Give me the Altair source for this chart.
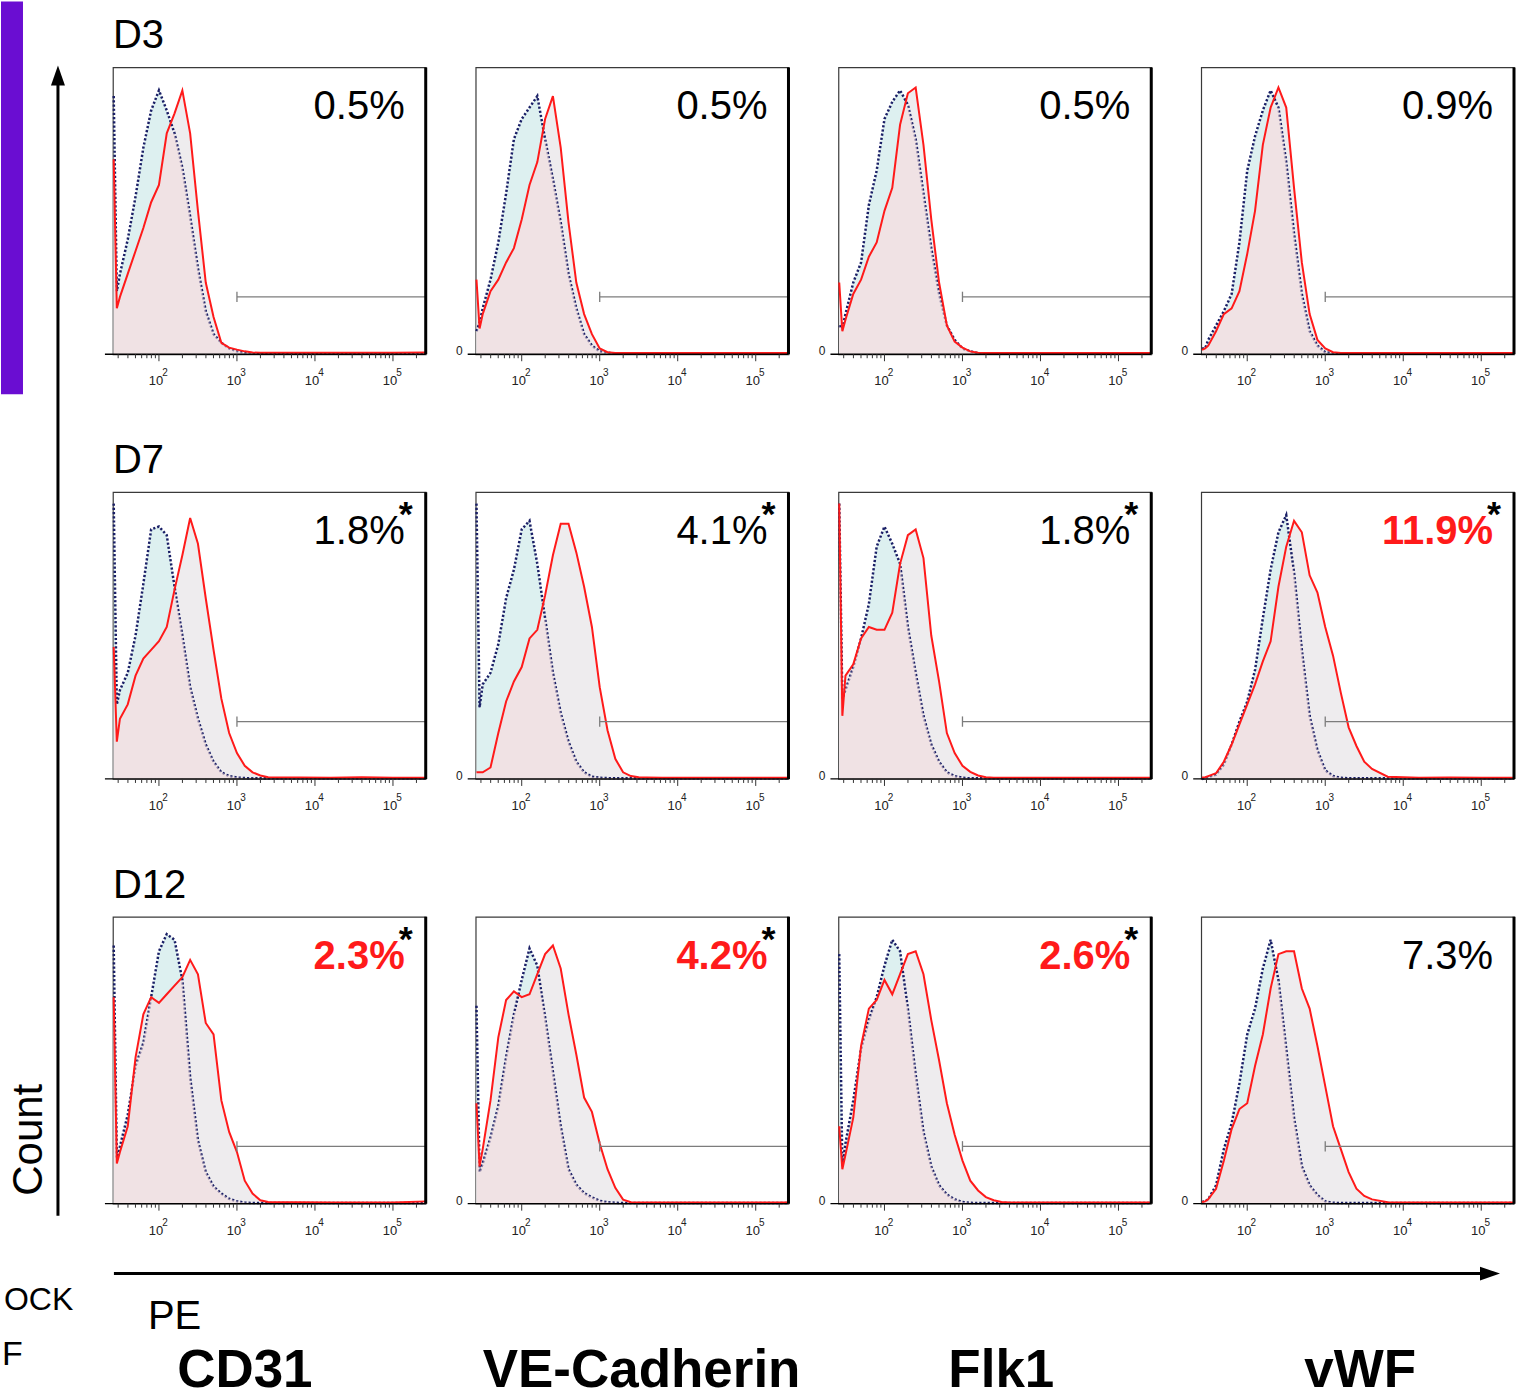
import altair as alt
import pandas as pd

# ---------------- data ----------------
# histogram bin centres, log10(PE intensity)
LOG_BINS = [1.42, 1.46, 1.5, 1.6, 1.7, 1.8, 1.9, 2.0, 2.1, 2.2, 2.3, 2.4, 2.5, 2.6, 2.7,
            2.8, 2.9, 3.0, 3.1, 3.2, 3.3, 3.4, 3.5, 3.6, 3.8, 4.2, 4.6, 5.0, 5.42]

DAYS = ["D3", "D7", "D12"]
MARKERS = ["CD31", "VE-Cadherin", "Flk1", "vWF"]

# isotype control (dotted) and stained sample (red), % of mode
ISO_D3_CD31 = [90, 22, 28, 40, 55, 72, 85, 92, 85, 77, 65, 48, 30, 15, 7, 4, 2, 1, 0.5, 0.3, 0.2, 0.2, 0.2, 0.2, 0.2, 0.2, 0.2, 0.2, 0.2]
SMP_D3_CD31 = [68, 16, 20, 28, 36, 44, 53, 59, 77, 84, 92, 77, 50, 25, 13, 4, 2.3, 1.6, 1, 0.6, 0.5, 0.5, 0.5, 0.5, 0.5, 0.5, 0.5, 0.5, 0.6]
ISO_D3_VEC = [8, 11, 16, 26, 39, 56, 75, 82, 86, 90, 75, 61, 46, 28, 16, 7, 3, 1, 0.5, 0.3, 0.2, 0.2, 0.2, 0.2, 0.2, 0.2, 0.2, 0.2, 0.2]
SMP_D3_VEC = [26, 9, 14, 22, 26, 32, 37, 47, 59, 67, 82, 90, 72, 46, 25, 14, 7, 2, 0.7, 0.4, 0.4, 0.4, 0.4, 0.4, 0.4, 0.4, 0.4, 0.4, 0.4]
ISO_D3_FLK = [10, 9, 14, 25, 32, 52, 64, 82, 88, 92, 87, 75, 56, 37, 21, 10, 5, 2, 1, 0.4, 0.2, 0.2, 0.2, 0.2, 0.2, 0.2, 0.2, 0.2, 0.2]
SMP_D3_FLK = [25, 8, 12, 21, 26, 34, 39, 50, 58, 80, 91, 93, 73, 47, 25, 10, 4.4, 2.3, 1, 0.5, 0.4, 0.4, 0.4, 0.4, 0.4, 0.4, 0.4, 0.4, 0.4]
ISO_D3_VWF = [2, 2, 5, 10, 15, 21, 39, 64, 76, 85, 92, 86, 67, 42, 21, 8, 3, 0.7, 0.3, 0.2, 0.2, 0.2, 0.2, 0.2, 0.2, 0.2, 0.2, 0.2, 0.2]
SMP_D3_VWF = [1.5, 2, 3, 8, 14, 16, 22, 35, 50, 73, 86, 93, 86, 58, 32, 14, 5, 2, 0.7, 0.4, 0.4, 0.4, 0.4, 0.4, 0.4, 0.4, 0.4, 0.4, 0.4]

ISO_D7_CD31 = [96, 26, 31, 37, 50, 68, 87, 88, 85, 67, 50, 32, 21, 12, 6, 2.3, 1, 0.5, 0.3, 0.2, 0.2, 0.2, 0.2, 0.2, 0.2, 0.2, 0.2, 0.2, 0.2]
SMP_D7_CD31 = [46, 13, 21, 26, 36, 42, 45, 48, 53, 66, 78, 91, 82, 63, 45, 28, 16, 9, 4.6, 2.3, 1.2, 0.6, 0.5, 0.5, 0.5, 0.4, 0.6, 0.4, 0.4]
ISO_D7_VEC = [96, 25, 33, 37, 47, 63, 73, 87, 90, 75, 56, 37, 23, 13, 6, 2.3, 0.8, 0.4, 0.3, 0.2, 0.2, 0.2, 0.2, 0.2, 0.2, 0.2, 0.2, 0.2, 0.2]
SMP_D7_VEC = [2.3, 2.3, 2.3, 4, 16, 27, 34, 39, 49, 52, 64, 78, 89, 89, 79, 67, 53, 32, 17, 7, 2.3, 1, 0.6, 0.5, 0.4, 0.4, 0.4, 0.4, 0.4]
ISO_D7_FLK = [96, 28, 31, 39, 49, 61, 81, 88, 82, 75, 53, 37, 22, 12, 6, 2.3, 1, 0.4, 0.2, 0.2, 0.2, 0.2, 0.2, 0.2, 0.2, 0.2, 0.2, 0.2, 0.2]
SMP_D7_FLK = [96, 22, 36, 40, 49, 53, 52, 52, 58, 75, 85, 87, 77, 50, 34, 16, 9, 4.6, 2.5, 1.2, 0.6, 0.4, 0.4, 0.4, 0.4, 0.4, 0.4, 0.4, 0.4]
ISO_D7_VWF = [0, 0.3, 0.6, 1.5, 5, 12, 20, 27, 38, 56, 73, 86, 92, 72, 45, 22, 10, 3, 1, 0.4, 0.2, 0.2, 0.2, 0.2, 0.2, 0.2, 0.2, 0.2, 0.2]
SMP_D7_VWF = [0.5, 0.6, 1, 2, 6, 12, 19, 26, 33, 41, 48, 67, 81, 90, 86, 71, 65, 53, 43, 30, 18, 11.5, 6, 3.5, 0.8, 0.4, 0.5, 0.4, 0.4]

ISO_D12_CD31 = [90, 16, 20, 31, 48, 56, 72, 88, 94, 92, 78, 44, 22, 11, 6, 3.5, 1.7, 0.8, 0.4, 0.2, 0.2, 0.2, 0.2, 0.2, 0.2, 0.2, 0.2, 0.2, 0.2]
SMP_D12_CD31 = [72, 14, 18, 27, 51, 66, 72, 70, 73, 76, 79, 85, 80, 63, 59, 36, 25, 18, 8, 3.5, 1.2, 0.6, 0.5, 0.5, 0.5, 0.4, 0.4, 0.4, 0.8]
ISO_D12_VEC = [69, 11, 14, 23, 34, 51, 66, 78, 89, 83, 65, 46, 27, 12, 6.6, 3.7, 2.2, 1, 0.5, 0.3, 0.2, 0.2, 0.2, 0.2, 0.2, 0.2, 0.2, 0.2, 0.2]
SMP_D12_VEC = [35, 13, 19, 36, 58, 71, 74, 72, 73, 80, 87, 90, 82, 66, 52, 37, 32, 21, 12, 5.5, 1.4, 0.5, 0.4, 0.4, 0.4, 0.4, 0.4, 0.4, 0.4]
ISO_D12_FLK = [87, 13, 21, 36, 54, 64, 72, 83, 92, 88, 68, 45, 25, 13, 6.4, 3.2, 1.5, 0.6, 0.3, 0.2, 0.2, 0.2, 0.2, 0.2, 0.2, 0.2, 0.2, 0.2, 0.2]
SMP_D12_FLK = [27, 12, 17, 30, 55, 68, 71, 78, 73, 80, 87, 88, 80, 64, 50, 35, 24, 15, 8, 4.6, 2.3, 1.2, 0.6, 0.4, 0.4, 0.4, 0.4, 0.4, 0.4]
ISO_D12_VWF = [0.6, 0.8, 1.5, 6.4, 19, 28, 42, 59, 68, 82, 92, 78, 54, 30, 13, 6.4, 3, 0.8, 0.3, 0.2, 0.2, 0.2, 0.2, 0.2, 0.2, 0.2, 0.2, 0.2, 0.2]
SMP_D12_VWF = [0.6, 0.8, 1.5, 5.2, 15, 26, 33, 35, 48, 59, 75, 87, 88, 88, 75, 68, 55, 41, 27, 19, 11, 5.2, 2.7, 1.5, 0.5, 0.4, 0.4, 0.4, 0.4]

ISO = [[ISO_D3_CD31, ISO_D3_VEC, ISO_D3_FLK, ISO_D3_VWF],
       [ISO_D7_CD31, ISO_D7_VEC, ISO_D7_FLK, ISO_D7_VWF],
       [ISO_D12_CD31, ISO_D12_VEC, ISO_D12_FLK, ISO_D12_VWF]]
SMP = [[SMP_D3_CD31, SMP_D3_VEC, SMP_D3_FLK, SMP_D3_VWF],
       [SMP_D7_CD31, SMP_D7_VEC, SMP_D7_FLK, SMP_D7_VWF],
       [SMP_D12_CD31, SMP_D12_VEC, SMP_D12_FLK, SMP_D12_VWF]]

PCT = [["0.5%", "0.5%", "0.5%", "0.9%"],
       ["1.8%", "4.1%", "1.8%", "11.9%"],
       ["2.3%", "4.2%", "2.6%", "7.3%"]]
SIGNIFICANT = [[False, False, False, False],
               [False, False, False, True],
               [True, True, True, False]]
STARRED = [[False, False, False, False],
           [True, True, True, True],
           [True, True, True, False]]

GATE_START = 1000
GATE_LEVEL = 20

MAJOR_TICKS = [100, 1000, 10000, 100000]
EXPONENTS = ["2", "3", "4", "5"]
MINOR_TICKS = [30, 40, 50, 60, 70, 80, 90,
               200, 300, 400, 500, 600, 700, 800, 900,
               2000, 3000, 4000, 5000, 6000, 7000, 8000, 9000,
               20000, 30000, 40000, 50000, 60000, 70000, 80000, 90000,
               200000]

# ---------------- styling / layout ----------------
W, H = 313, 287
XMIN, XMAX = 10 ** 1.41, 10 ** 5.42
XS = alt.Scale(type="log", domain=[XMIN, XMAX], nice=False)
YS = alt.Scale(domain=[0, 100], nice=False, zero=True)
FONT = "Liberation Sans"
CYAN = "#ddf0f0"
GRAY = "#eeecee"
PINK = "#f3dadd"
NAVY = "#1a1f66"
RED = "#ff1a1a"
PURPLE = "#6a0dd2"
NAME_X = [132, 166, 163, 159]
ARROW = "M0,-1L-0.7,1L0.7,1Z"
BL = "alphabetic"


def one(**cols):
    return alt.Chart(pd.DataFrame({k: [v] for k, v in cols.items()} or {"k": [0]}))


def panel(r, c):
    df = pd.DataFrame({"fl": [10 ** v for v in LOG_BINS], "iso": ISO[r][c], "smp": SMP[r][c]})
    base = alt.Chart(df)
    x = alt.X("fl:Q", scale=XS, axis=None)

    def y(f):
        return alt.Y(f, scale=YS, axis=None)

    layers = [
        base.mark_area(color=CYAN).encode(x=x, y=y("iso:Q")),
        base.mark_area(color=GRAY).encode(x=x, y=y("smp:Q")),
        base.mark_line(color=NAVY, strokeWidth=2.5, strokeDash=[2.2, 2]).encode(x=x, y=y("iso:Q")),
        base.transform_calculate(ov="min(datum.iso, datum.smp)")
            .mark_area(color=PINK, opacity=0.55).encode(x=x, y=y("ov:Q")),
        base.mark_line(color=RED, strokeWidth=2).encode(x=x, y=y("smp:Q")),
    ]

    # gate
    g = one(start=GATE_START, end=XMAX, level=GATE_LEVEL, lo=GATE_LEVEL - 1.8, hi=GATE_LEVEL + 1.8)
    layers.append(g.mark_rule(color="#7c7c7c", strokeWidth=1.3).encode(
        x=alt.X("start:Q", scale=XS, axis=None), x2="end:Q", y=y("level:Q")))
    layers.append(g.mark_rule(color="#7c7c7c", strokeWidth=1.3).encode(
        x=alt.X("start:Q", scale=XS, axis=None), y=y("lo:Q"), y2="hi:Q"))

    # frame pieces and axis
    layers.append(one().mark_rule(color="black", strokeWidth=3).encode(
        x=alt.value(W), y=alt.value(0), y2=alt.value(H)))
    layers.append(one().mark_rule(color="black", strokeWidth=1.3).encode(
        x=alt.value(-8), x2=alt.value(W), y=alt.value(H)))
    mn = alt.Chart(pd.DataFrame({"v": MINOR_TICKS}))
    mj = alt.Chart(pd.DataFrame({"v": MAJOR_TICKS, "e": EXPONENTS}))
    xv = alt.X("v:Q", scale=XS, axis=None)
    layers.append(mn.mark_rule(color="#333", strokeWidth=1).encode(x=xv, y=alt.value(H), y2=alt.value(H + 4)))
    layers.append(mj.mark_rule(color="#333", strokeWidth=1).encode(x=xv, y=alt.value(H), y2=alt.value(H + 7)))
    layers.append(mj.mark_text(text="10", font=FONT, fontSize=13, color="#222", align="center", baseline=BL, dx=-3)
                  .encode(x=xv, y=alt.value(H + 31)))
    layers.append(mj.mark_text(font=FONT, fontSize=10, color="#222", align="center", baseline=BL, dx=6)
                  .encode(x=xv, y=alt.value(H + 22), text="e:N"))
    if c > 0:
        layers.append(one().mark_text(text="0", font=FONT, fontSize=12, color="#222", align="right", baseline=BL)
                      .encode(x=alt.value(-13), y=alt.value(H + 1)))

    # percentage
    sig = SIGNIFICANT[r][c]
    layers.append(one(label=PCT[r][c]).mark_text(
        font=FONT, fontSize=40, align="right", baseline=BL, fontWeight="bold" if sig else "normal",
        color=RED if sig else "black").encode(x=alt.value(W - 21), y=alt.value(52), text="label:N"))
    if STARRED[r][c]:
        layers.append(one().mark_text(text="*", font=FONT, fontSize=36, fontWeight="bold", color="black",
                                      align="center", baseline=BL).encode(x=alt.value(W - 20), y=alt.value(34)))

    if c == 0:
        layers.append(one(label=DAYS[r]).mark_text(font=FONT, fontSize=40, align="left", baseline=BL, color="black")
                      .encode(x=alt.value(0), y=alt.value(-19), text="label:N"))
    if r == 2:
        layers.append(one(label=MARKERS[c]).mark_text(font=FONT, fontSize=53, fontWeight="bold",
                                                      align="center", baseline=BL, color="black")
                      .encode(x=alt.value(NAME_X[c]), y=alt.value(470), text="label:N"))

    if r == 0 and c == 0:
        layers.append(one().mark_rect(color=PURPLE).encode(
            x=alt.value(-112), x2=alt.value(-90), y=alt.value(-66), y2=alt.value(327)))
        layers.append(one().mark_rule(color="black", strokeWidth=3).encode(
            x=alt.value(-55), y=alt.value(4), y2=alt.value(1149)))
        layers.append(one().mark_point(shape=ARROW, filled=True, size=400, color="black", opacity=1)
                      .encode(x=alt.value(-55), y=alt.value(8)))
    if r == 2 and c == 0:
        layers.append(one().mark_text(text="Count", font=FONT, fontSize=42, angle=270, align="center",
                                      baseline="middle", color="black")
                      .encode(x=alt.value(-84), y=alt.value(223)))
        layers.append(one().mark_rule(color="black", strokeWidth=3).encode(
            x=alt.value(1), x2=alt.value(1382), y=alt.value(357)))
        layers.append(one().mark_point(shape=ARROW, filled=True, size=400, angle=90, color="black", opacity=1)
                      .encode(x=alt.value(1378), y=alt.value(357)))
        layers.append(one().mark_text(text="PE", font=FONT, fontSize=40, align="left", baseline=BL, color="black")
                      .encode(x=alt.value(35), y=alt.value(412)))
        layers.append(one().mark_text(text="OCK", font=FONT, fontSize=32, align="left", baseline=BL, color="black")
                      .encode(x=alt.value(-109), y=alt.value(393)))
        layers.append(one().mark_text(text="F", font=FONT, fontSize=34, align="left", baseline=BL, color="black")
                      .encode(x=alt.value(-111), y=alt.value(448)))

    return alt.layer(*layers).properties(width=W, height=H)


panels = [panel(r, c) for r in range(3) for c in range(4)]

chart = alt.concat(
    *panels, columns=4, spacing={"row": 138, "column": 50}, bounds="flush", padding=0
).configure_view(stroke="#3a3a3a", strokeWidth=1.2).properties(background="white")

chart.save("out.html", embed_options={"renderer": "svg", "actions": False})
